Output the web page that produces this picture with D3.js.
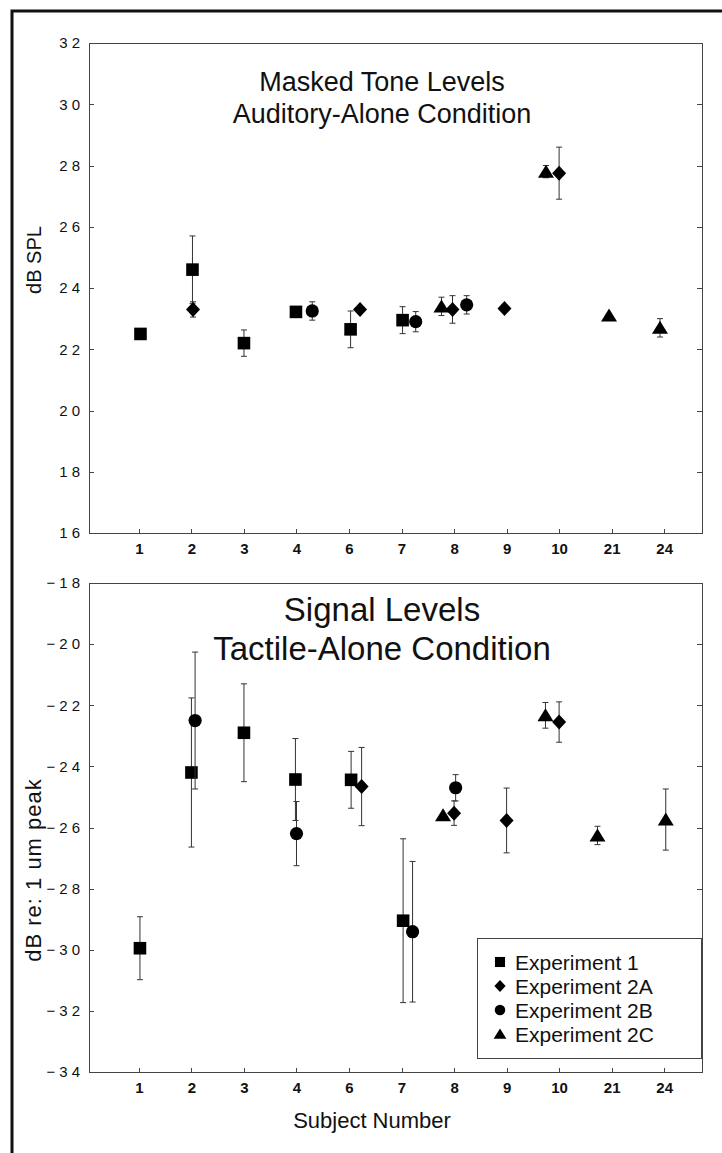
<!DOCTYPE html>
<html>
<head>
<meta charset="utf-8">
<script src="https://cdn.jsdelivr.net/npm/d3@7"></script>
<style>
  body { margin: 0; background: #fff; }
  svg { display: block; font-family: "Liberation Sans", Arial, Helvetica, sans-serif; }
  .y-axis text { font-size: 15px; letter-spacing: 4px; fill: #111; }
  .x-axis text { font-family: "Liberation Sans Narrow", "Liberation Sans", Arial, sans-serif; font-weight: bold; font-size: 15px; fill: #111; }
  .axis path, .axis line { stroke: #444; stroke-width: 1; fill: none; shape-rendering: crispEdges; }
  .title { fill: #111; text-anchor: middle; }
  .label { font-size: 20px; fill: #111; text-anchor: middle; }
  .legend text { font-size: 21px; fill: #111; }
  .errbar { stroke: #333; stroke-width: 1; fill: none; }
  .marker { fill: #000; }
</style>
</head>
<body>
<div id="chart"></div>
<script>
var subjects = ["1", "2", "3", "4", "6", "7", "8", "9", "10", "21", "24"];
var experiments = ["Experiment 1", "Experiment 2A", "Experiment 2B", "Experiment 2C"];
var markerTypes = ["square", "diamond", "circle", "triangle"];

var toneTicks = [16, 18, 20, 22, 24, 26, 28, 30, 32];
var signalTicks = [-34, -32, -30, -28, -26, -24, -22, -20, -18];

// rows: [subject, mean, error, shift in subject units]
var toneExp1 = [["1", 22.5, 0.1, 0.03], ["2", 24.6, 1.1, 0.02], ["3", 22.2, 0.43, 0], ["4", 23.22, 0.1, -0.01], ["6", 22.65, 0.6, 0.03], ["7", 22.95, 0.44, 0.02]];
var toneExp2A = [["2", 23.3, 0.25, 0.03], ["6", 23.3, 0.1, 0.21], ["8", 23.3, 0.45, -0.03], ["9", 23.33, 0.05, -0.04], ["10", 27.75, 0.85, 0]];
var toneExp2B = [["4", 23.25, 0.3, 0.3], ["7", 22.9, 0.33, 0.27], ["8", 23.45, 0.3, 0.24]];
var toneExp2C = [["8", 23.4, 0.3, -0.24], ["10", 27.8, 0.2, -0.25], ["21", 23.1, 0.05, -0.05], ["24", 22.7, 0.3, -0.08]];

var signalExp1 = [["1", -29.95, 1.03, 0.02], ["2", -24.2, 2.44, 0], ["3", -22.9, 1.6, 0], ["4", -24.43, 1.34, -0.02], ["6", -24.44, 0.93, 0.04], ["7", -29.05, 2.68, 0.03]];
var signalExp2A = [["6", -24.66, 1.28, 0.24], ["8", -25.53, 0.4, 0], ["9", -25.77, 1.06, 0], ["10", -22.55, 0.66, 0]];
var signalExp2B = [["2", -22.5, 2.24, 0.07], ["4", -26.2, 1.05, 0], ["7", -29.41, 2.3, 0.21], ["8", -24.7, 0.43, 0.03]];
var signalExp2C = [["8", -25.6, 0.05, -0.21], ["10", -22.33, 0.42, -0.26], ["21", -26.26, 0.3, -0.27], ["24", -25.74, 1.0, 0.03]];

var width = 722, height = 1153;
var svg = d3.select("#chart").append("svg")
    .attr("width", width)
    .attr("height", height);

// outer frame of the scanned figure
svg.append("path")
    .attr("d", "M12,1153 L12,11 L722,11")
    .attr("fill", "none")
    .attr("stroke", "#111")
    .attr("stroke-width", 3);

var x = d3.scaleLinear().domain([0.05, 11.72]).range([89, 702]);

function markerPath(type) {
  var p = d3.path();
  if (type == "square") {
    p.rect(-6.3, -6.3, 12.6, 12.6);
  } else if (type == "diamond") {
    p.moveTo(0, -7.5); p.lineTo(7, 0); p.lineTo(0, 7.5); p.lineTo(-7, 0); p.closePath();
  } else if (type == "circle") {
    p.arc(0, 0, 6.6, 0, 2 * Math.PI);
  } else {
    p.moveTo(0, -7); p.lineTo(8, 6); p.lineTo(-8, 6); p.closePath();
  }
  return p.toString();
}

function subjectX(d) {
  return x(subjects.indexOf(d[0]) + 1 + d[3]);
}

function createPanel(top, bottom, domain, ticks, series, titles, titleSize, titleY, ylabel, ylabelY, ylabelSize) {
  var y = d3.scaleLinear().domain(domain).range([bottom, top]);
  var g = svg.append("g");

  // box
  g.append("rect")
      .attr("x", x.range()[0])
      .attr("y", top)
      .attr("width", x.range()[1] - x.range()[0])
      .attr("height", bottom - top)
      .attr("fill", "none")
      .attr("stroke", "#444")
      .attr("shape-rendering", "crispEdges");

  var yAxis = g.append("g")
      .attr("class", "axis y-axis")
      .attr("transform", "translate(" + x.range()[0] + ",0)")
      .call(d3.axisLeft(y).tickValues(ticks).tickSize(-5).tickPadding(5).tickFormat(d3.format("d")));
  yAxis.select(".domain").remove();

  var yAxisRight = g.append("g")
      .attr("class", "axis")
      .attr("transform", "translate(" + x.range()[1] + ",0)")
      .call(d3.axisRight(y).tickValues(ticks).tickSize(-5).tickFormat(""));
  yAxisRight.select(".domain").remove();

  var xAxis = g.append("g")
      .attr("class", "axis x-axis")
      .attr("transform", "translate(0," + bottom + ")")
      .call(d3.axisBottom(x)
        .tickValues(d3.range(1, subjects.length + 1))
        .tickSize(-4).tickPadding(10)
        .tickFormat(function(d) { return subjects[d - 1]; }));
  xAxis.select(".domain").remove();

  // titles
  titles.forEach(function(t, i) {
    g.append("text")
        .attr("class", "title")
        .attr("x", 382)
        .attr("y", titleY + i * titleSize * 1.17)
        .style("font-size", titleSize + "px")
        .text(t);
  });

  g.append("text")
      .attr("class", "label")
      .attr("transform", "translate(41," + ylabelY + ") rotate(-90)")
      .style("font-size", ylabelSize + "px")
      .style("letter-spacing", ylabelSize > 20 ? "1px" : "0px")
      .text(ylabel);

  series.forEach(function(data, k) {
    var s = g.append("g");

    var bars = s.selectAll(".eb")
        .data(data)
        .enter().append("g");

    bars.append("line")
        .attr("class", "errbar")
        .attr("x1", subjectX).attr("x2", subjectX)
        .attr("y1", function(d) { return y(d[1] - d[2]); })
        .attr("y2", function(d) { return y(d[1] + d[2]); });

    [-1, 1].forEach(function(sign) {
      bars.append("line")
          .attr("class", "errbar")
          .attr("x1", function(d) { return subjectX(d) - 3; })
          .attr("x2", function(d) { return subjectX(d) + 3; })
          .attr("y1", function(d) { return y(d[1] + sign * d[2]); })
          .attr("y2", function(d) { return y(d[1] + sign * d[2]); });
    });

    s.selectAll(".marker")
        .data(data)
        .enter().append("path")
        .attr("class", "marker")
        .attr("d", markerPath(markerTypes[k]))
        .attr("transform", function(d) {
          return "translate(" + subjectX(d) + "," + y(d[1]) + ")";
        });
  });

  return y;
}

createPanel(43, 533, [16, 32], toneTicks,
  [toneExp1, toneExp2A, toneExp2B, toneExp2C],
  ["Masked Tone Levels", "Auditory-Alone Condition"], 27, 91, "dB SPL", 260, 20);

createPanel(583, 1072, [-34, -18], signalTicks,
  [signalExp1, signalExp2A, signalExp2B, signalExp2C],
  ["Signal Levels", "Tactile-Alone Condition"], 33, 621, "dB re: 1 um peak", 870, 22);

// x label
svg.append("text")
    .attr("class", "label")
    .attr("x", 372)
    .attr("y", 1128)
    .style("font-size", "22px")
    .text("Subject Number");

// legend
var legend = svg.append("g").attr("class", "legend");
legend.append("rect")
    .attr("x", 477).attr("y", 938)
    .attr("width", 224).attr("height", 120)
    .attr("fill", "#fff")
    .attr("stroke", "#444")
    .attr("shape-rendering", "crispEdges");

var rows = legend.selectAll(".row")
    .data(experiments)
    .enter().append("g")
    .attr("transform", function(d, i) { return "translate(500," + (962 + i * 24) + ")"; });

rows.append("path")
    .attr("class", "marker")
    .attr("d", function(d, i) { return markerPath(markerTypes[i]); })
    .attr("transform", "scale(0.8)");

rows.append("text")
    .attr("x", 15)
    .attr("dy", "0.36em")
    .text(function(d) { return d; });
</script>
</body>
</html>
